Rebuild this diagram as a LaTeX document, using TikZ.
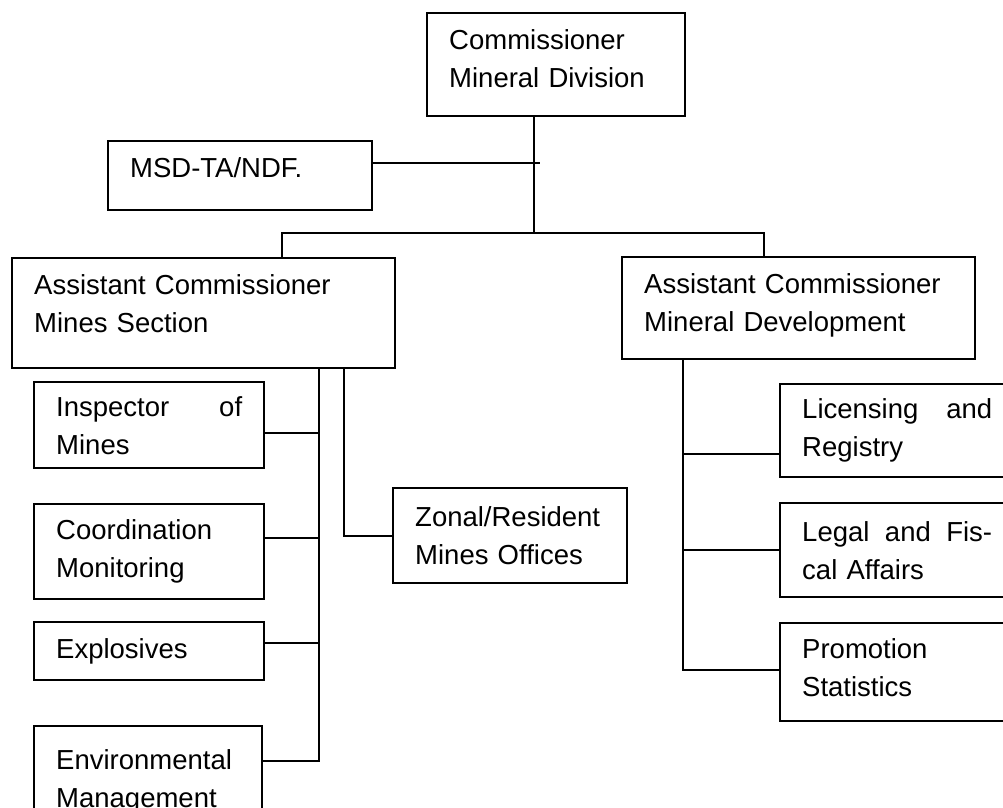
\documentclass[tikz,border=0pt]{standalone}
\usepackage{fontspec}
\setmainfont{Liberation Sans}
\newcommand{\lowpad}[1]{\rule[-#1]{0pt}{#1}}
\begin{document}
\begin{tikzpicture}[x=1pt,y=-1pt,
  box/.style={draw, line width=2.4pt, anchor=north west, align=left,
    inner xsep=22pt, inner ysep=0pt, font=\fontsize{27.5}{38}\selectfont},
  conn/.style={line width=2.2pt}]
\useasboundingbox (0,0) rectangle (1003,807);
\clip (0,0) rectangle (1003,807);
\fill[white] (0,0) rectangle (1003,807);

% boxes
\node[box, text width=214pt, minimum height=103pt] (top) at (426,12) {Commissioner\\Mineral Division\lowpad{12pt}};
\node[box, text width=220pt, minimum height=69pt] (msd) at (107,140) {MSD-TA/NDF.\lowpad{16pt}};
\node[box, text width=339pt, minimum height=110pt] (acl) at (11,257) {Assistant Commissioner\\Mines Section\lowpad{20pt}};
\node[box, text width=309pt, minimum height=102pt] (acr) at (621,256) {Assistant Commissioner\\Mineral Development\lowpad{12pt}};

\node[box, text width=186pt, minimum height=86pt] (insp) at (33,381) {Inspector\hfill of\\Mines};
\node[box, text width=186pt, minimum height=95pt] (coord) at (33,503) {Coordination\\Monitoring};
\node[box, text width=186pt, minimum height=58pt] (expl) at (33,621) {Explosives};
\node[box, text width=184pt, minimum height=110pt] (env) at (33,725) {Environmental\\Management};
\node[box, text width=190pt, minimum height=95pt] (zon) at (392,487) {Zonal/Resident\\Mines Offices};

\node[box, text width=190pt, minimum height=93pt] (lic) at (779,383) {Licensing\hfill and\\Registry};
\node[box, text width=190pt, minimum height=94pt] (leg) at (779,502) {Legal\hfill and\hfill Fis-\\cal Affairs};
\node[box, text width=190pt, minimum height=98pt] (prom) at (779,622) {Promotion\\Statistics\lowpad{10pt}};

% junction coordinates
\coordinate (bus) at (534,233);
\coordinate (msdj) at (540,163);
\coordinate (busL) at (282,233);
\coordinate (busR) at (764,233);
\coordinate (l1) at (319,433);
\coordinate (l2) at (319,538);
\coordinate (l3) at (319,643);
\coordinate (l4) at (319,761);
\coordinate (zj) at (344,536);
\coordinate (r1) at (683,454);
\coordinate (r2) at (683,550);
\coordinate (r3) at (683,670);

% connectors
\draw[conn] (bus |- top.south) -- (bus);
\draw[conn] (msd.east |- msdj) -- (msdj);
\draw[conn] (busL |- acl.north) -- (busL) -- (busR) -- (busR |- acr.north);

\draw[conn] (acl.south -| l4) -- (l4) -- (l4 -| env.east);
\draw[conn] (l1) -- (l1 -| insp.east);
\draw[conn] (l2) -- (l2 -| coord.east);
\draw[conn] (l3) -- (l3 -| expl.east);
\draw[conn] (acl.south -| zj) -- (zj) -- (zj -| zon.west);

\draw[conn] (acr.south -| r3) -- (r3) -- (r3 -| prom.west);
\draw[conn] (r1) -- (r1 -| lic.west);
\draw[conn] (r2) -- (r2 -| leg.west);
\end{tikzpicture}
\end{document}
